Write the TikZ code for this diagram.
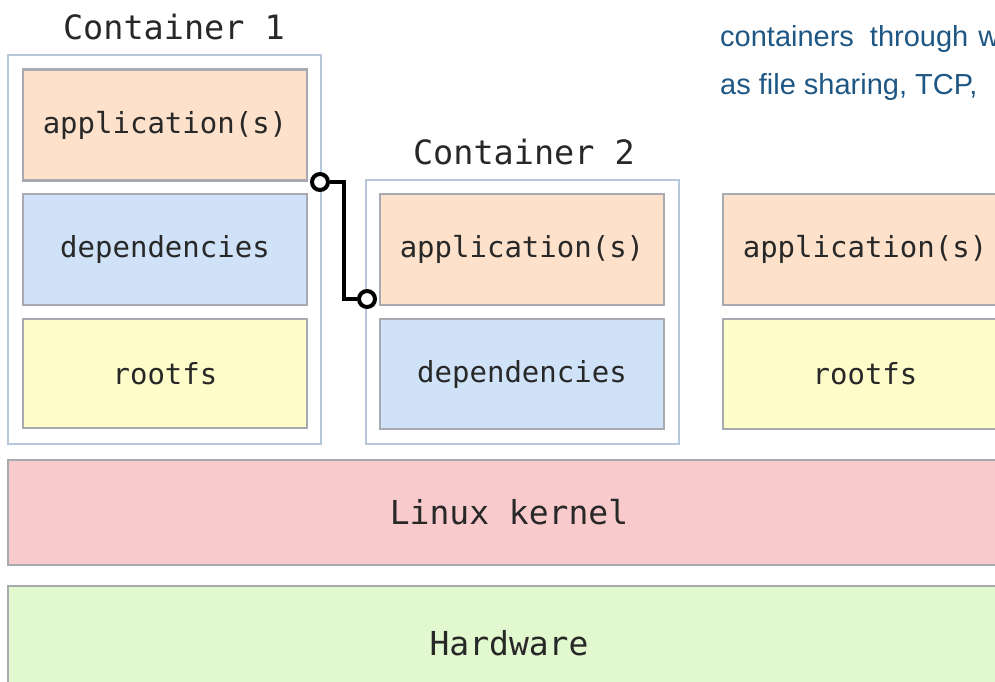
\documentclass[tikz,border=0pt]{standalone}
\usepackage{fontspec}
\newfontfamily\monofont{DejaVu Sans Mono}
\newfontfamily\bodyfont{Liberation Sans}
\usepackage{tikz}
\usetikzlibrary{positioning,calc}
\definecolor{appfill}{RGB}{253,225,202}
\definecolor{depfill}{RGB}{207,226,247}
\definecolor{rootfill}{RGB}{254,253,202}
\definecolor{kernfill}{RGB}{248,202,204}
\definecolor{hwfill}{RGB}{226,248,206}
\definecolor{boxline}{RGB}{168,170,178}
\definecolor{contline}{RGB}{184,198,220}
\definecolor{labtext}{RGB}{40,40,40}
\definecolor{notetext}{RGB}{30,86,132}

\begin{document}
\begin{tikzpicture}[x=1pt, y=-1pt, layer/.style = {rectangle, draw=boxline, line width=2.4pt, minimum width=284, minimum height=111, inner sep=0pt, outer sep=0pt, text=labtext, font=\monofont\fontsize{29}{32}\selectfont}, cont/.style = {rectangle, draw=contline, line width=2.2pt, fill=white, minimum width=313, inner sep=0pt, outer sep=0pt}, title/.style = {text=labtext, font=\monofont\fontsize{33.5}{36}\selectfont}, base/.style = {layer, minimum width=1002, minimum height=105, font=\monofont\fontsize{33}{36}\selectfont}, port/.style = {circle, draw=black, line width=4pt, fill=white, minimum size=16, inner sep=0pt}, note/.style = {anchor=base west, text=notetext, inner sep=0pt, font=\bodyfont\fontsize{29}{34}\selectfont}]

\useasboundingbox (0,0) rectangle (995,681);
\clip (0,0) rectangle (995,681);

% container 1
\node[cont, minimum height=389] (c1) at (164.5,249.5) {};
\node[title] (t1) at (174,27) {Container 1};
\node[layer, fill=appfill] (app1) at (165,125) {application(s)};
\node[layer, fill=depfill] (dep1) at (165,249.5) {dependencies};
\node[layer, fill=rootfill, minimum height=109] (root1) at (165,373.5) {rootfs};

% container 2
\node[cont, minimum height=264] (c2) at (522.5,312) {};
\node[title] (t2) at (524,152) {Container 2};
\node[layer, fill=appfill] (app2) at (522,249.5) {application(s)};
\node[layer, fill=depfill, minimum height=110] (dep2) at (522,374) {dependencies};

% third one, cut off
\node[layer, fill=appfill] (app3) at (865,249.5) {application(s)};
\node[layer, fill=rootfill, minimum height=110] (root3) at (865,374) {rootfs};

% shared layers
\node[base, fill=kernfill] (kern) at (509,512.5) {Linux kernel};
\node[base, fill=hwfill, minimum height=114] (hw) at (509,643) {Hardware};

% link between the containers
\coordinate (m) at (343.5,240);
\node[port] (p1) at (320,182) {};
\node[port] (p2) at (367,299) {};
\draw[line width=4pt] (p1) -| (m) |- (p2);

% text next to the picture
\node[note] (n1) at (720,46) {containers\hspace{16pt}through\hspace{10pt}w};
\node[note] (n2) at (720,94) {as file sharing, TCP,};
\end{tikzpicture}
\end{document}
